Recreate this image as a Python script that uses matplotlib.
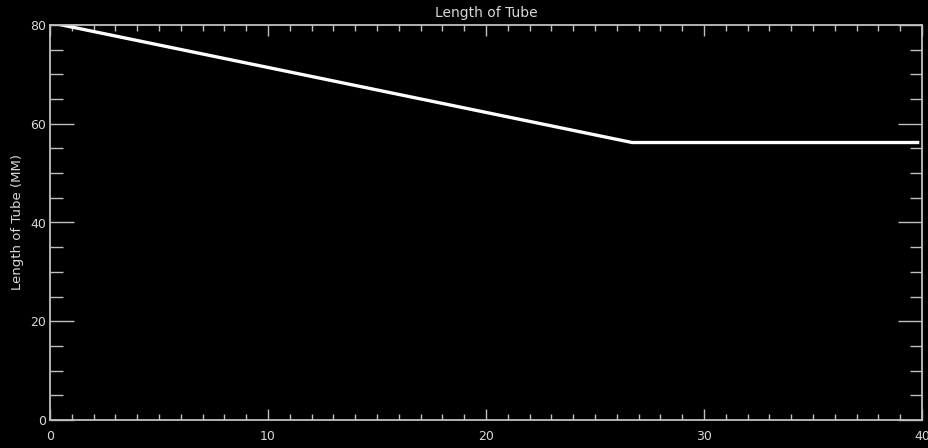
import matplotlib
matplotlib.use('Agg')
import matplotlib.pyplot as plt
from matplotlib.ticker import MultipleLocator

# tube length vs. time: linear shrink then constant
time_pts = [0.0, 26.7, 39.8]
length_pts = [80.5, 56.2, 56.2]

x_ticks = [0, 10, 20, 30, 40]
y_ticks = [0, 20, 40, 60, 80]

fg = '#d8d8d8'
axc = '#c0c0c0'

fig = plt.figure(figsize=(9.29, 4.48), dpi=100, facecolor='black')
ax = fig.add_axes([50 / 929, 28 / 448, 872 / 929, 395 / 448], facecolor='black')

ax.plot(time_pts, length_pts, color='white', lw=2.4, solid_joinstyle='miter')

ax.set_xlim(0, 40)
ax.set_ylim(0, 80)
ax.set_xticks(x_ticks)
ax.set_yticks(y_ticks)
ax.xaxis.set_minor_locator(MultipleLocator(1))
ax.yaxis.set_minor_locator(MultipleLocator(5))

for s in ax.spines.values():
    s.set_color(axc)
    s.set_linewidth(1.3)

ax.tick_params(axis='x', which='major', direction='in', length=8, width=1,
               color=axc, top=True, labelcolor=fg, labelsize=9, pad=7)
ax.tick_params(axis='x', which='minor', direction='in', length=4, width=1,
               color=axc, top=True)
ax.tick_params(axis='y', which='major', direction='in', length=17, width=1,
               color=axc, right=True, labelcolor=fg, labelsize=9, pad=3)
ax.tick_params(axis='y', which='minor', direction='in', length=9, width=1,
               color=axc, right=True)

ax.set_title('Length of Tube', color=fg, fontsize=10, pad=6)
ax.set_ylabel('Length of Tube (MM)', color=fg, fontsize=9.5, labelpad=4)

fig.savefig('out.png', dpi=100, facecolor='black')
